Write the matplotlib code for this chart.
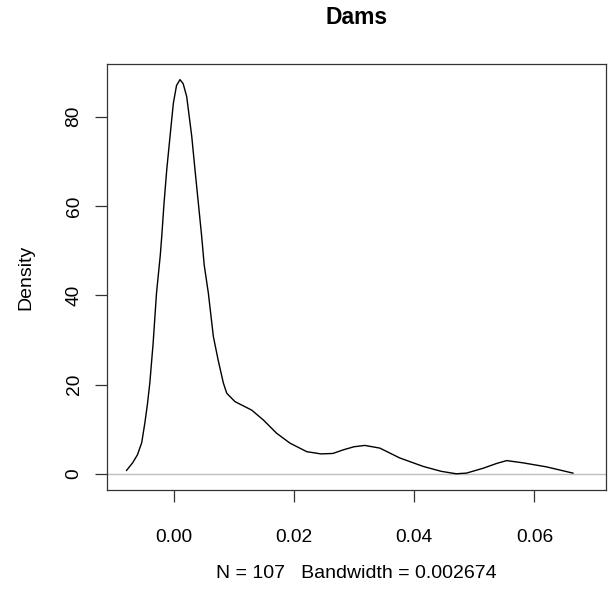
import matplotlib
matplotlib.use("Agg")
import matplotlib.pyplot as plt

plt.rcParams['font.family'] = ['Liberation Sans', 'DejaVu Sans']

# density curve
dens_x = [-0.00781, -0.0068, -0.0060, -0.00529, -0.00477, -0.00435, -0.00394,
          -0.00339, -0.00283, -0.0022, -0.00196, -0.00158, -0.00113, -0.00058,
          -0.00003, 0.0005, 0.00108, 0.0016, 0.00219, 0.00303, 0.00357,
          0.00413, 0.00468, 0.0051, 0.00579, 0.00662, 0.00742, 0.00828,
          0.00884, 0.01022, 0.013, 0.01493, 0.01716, 0.01937, 0.02215,
          0.0245, 0.0265, 0.0282, 0.0300, 0.0318, 0.0343, 0.0376, 0.0415,
          0.0445, 0.0470, 0.0487, 0.0515, 0.0538, 0.0554, 0.0581, 0.062,
          0.0664]
dens_y = [0.8, 2.5, 4.3, 7.0, 11.4, 15.5, 20.4,
          29.3, 40.5, 49.0, 53.2, 60.6, 68.1, 75.6,
          83.0, 87.0, 88.3, 87.4, 84.5, 75.6, 68.1,
          60.6, 53.2, 46.8, 40.5, 30.8, 25.5, 20.4,
          18.1, 16.2, 14.3, 12.1, 9.1, 6.9, 5.0,
          4.5, 4.6, 5.4, 6.1, 6.4, 5.8, 3.6, 1.7,
          0.6, 0.05, 0.2, 1.3, 2.4, 3.0, 2.5, 1.6,
          0.2]

x_ticks = [0.00, 0.02, 0.04, 0.06]
x_tick_labels = ["0.00", "0.02", "0.04", "0.06"]
y_ticks = [0, 20, 40, 60, 80]

title = "Dams"
xlab = "N = 107   Bandwidth = 0.002674"
ylab = "Density"

fig = plt.figure(figsize=(6.1, 5.9), dpi=100)
ax = fig.add_axes([107/610, 1 - 489.5/590, (606-107)/610, (489.5-64)/590])

ax.axhline(0, color="#bebebe", lw=1.0, zorder=1)
ax.plot(dens_x, dens_y, color="black", lw=1.0, zorder=2)

ax.set_xlim(-0.01106, 0.0719)
ax.set_ylim(-3.47, 91.8)

ax.set_xticks(x_ticks)
ax.set_xticklabels(x_tick_labels)
ax.set_yticks(y_ticks)
ax.set_yticklabels([str(v) for v in y_ticks], rotation=90, va="center")

ax.tick_params(length=8.6, width=0.9, color="#333333", labelsize=13.8)
ax.tick_params(axis="x", pad=20)
ax.tick_params(axis="y", pad=9)
for s in ax.spines.values():
    s.set_linewidth(0.9)
    s.set_color("#333333")

fig.text(356.5/610, 1 - 18/590, title, ha="center", va="center",
         fontsize=16.5, fontweight="bold")
fig.text(356.5/610, 1 - 573/590, xlab, ha="center", va="center", fontsize=14)
fig.text(26/610, 1 - 277/590, ylab, ha="center", va="center", fontsize=14,
         rotation=90)

fig.savefig("out.png", dpi=100)
